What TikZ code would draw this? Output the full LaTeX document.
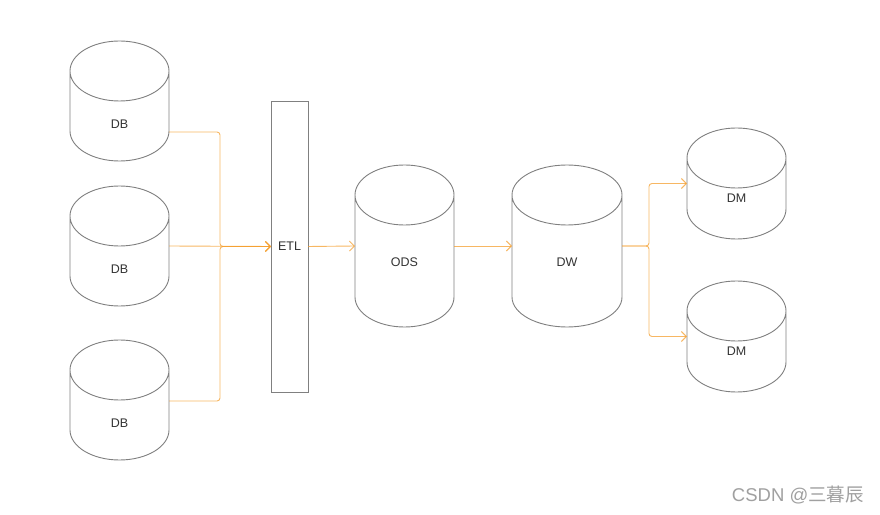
\documentclass[tikz,border=0pt]{standalone}
\usepackage{fontspec}
\setmainfont{Liberation Sans}
\newfontfamily\cjkfont{Noto Sans CJK SC}
\usetikzlibrary{arrows.meta,calc}
\definecolor{cylgray}{HTML}{808080}
\definecolor{txtdark}{HTML}{333333}
\definecolor{linkorange}{HTML}{F5A030}
\definecolor{wmgray}{HTML}{A0A0A0}
\tikzset{
  cylbox/.style={inner sep=0pt, outer sep=0pt},
  cylline/.style={draw=cylgray, line width=0.9pt},
  lbl/.style={text=txtdark, font=\fontsize{12.5}{14}\selectfont},
  link/.style={draw=linkorange, draw opacity=0.75, line width=0.9pt, rounded corners=3pt,
    -{Straight Barb[length=5pt,width=10pt]}},
}
% #1 name, #2 cx, #3 top(px), #4 w, #5 h, #6 ry, #7 label shift, #8 label
\newcommand{\mycyl}[8]{%
  \node[cylbox, minimum width=#4pt, minimum height=#5pt,
        label={[lbl, yshift=#7pt]center:#8}] (#1) at (#2, {514-#3-#5/2}) {};
  \draw[cylline] ($(#1.north west)+(0,-#6)$)
     arc[start angle=180, end angle=0, x radius={#4*0.5pt}, y radius=#6pt]
     arc[start angle=0, end angle=-180, x radius={#4*0.5pt}, y radius=#6pt]
     -- ($(#1.south west)+(0,#6)$)
     arc[start angle=180, end angle=360, x radius={#4*0.5pt}, y radius=#6pt]
     -- ($(#1.north east)+(0,-#6)$);
}
\begin{document}
\begin{tikzpicture}[x=1pt,y=1pt]
\useasboundingbox[fill=white] (0,0) rectangle (880,514);
\mycyl{db1}{119.5}{41}{99}{120}{30}{-23}{DB}
\mycyl{db2}{119.5}{186}{99}{120}{30}{-23}{DB}
\mycyl{db3}{119.5}{340}{99}{120}{30}{-23}{DB}
\mycyl{ods}{404.5}{165}{99}{162}{30}{-16}{ODS}
\mycyl{dw}{567}{165}{110}{162}{30}{-16}{DW}
\mycyl{dm1}{736.5}{128}{99}{111}{30}{-14.5}{DM}
\mycyl{dm2}{736.5}{281}{99}{111}{30}{-14.5}{DM}
\node[draw=cylgray, line width=0.9pt, minimum width=37pt, minimum height=291pt,
      inner sep=0pt, outer sep=0pt, lbl] (etl) at (289.5, 267.5) {ETL};
% connectors
\draw[link] ([yshift=-31pt]db1.east) -- ++(51,0) |- (etl.west);
\draw[link] (db2.east) -- (etl.west);
\draw[link] ([yshift=-1pt]db3.east) -- ++(51,0) |- (etl.west);
\draw[link] (etl.east) -- (ods.west);
\draw[link] (ods.east) -- (dw.west);
\draw[link] (dw.east) -- ++(27,0) |- (dm1.west);
\draw[link] (dw.east) -- ++(27,0) |- (dm2.west);
% watermark
\node[anchor=east, text=wmgray, font=\fontsize{18.5}{20}\selectfont, inner sep=0pt] (wm)
  at (864, 19) {CSDN @{\cjkfont 三暮辰}};
\end{tikzpicture}
\end{document}
